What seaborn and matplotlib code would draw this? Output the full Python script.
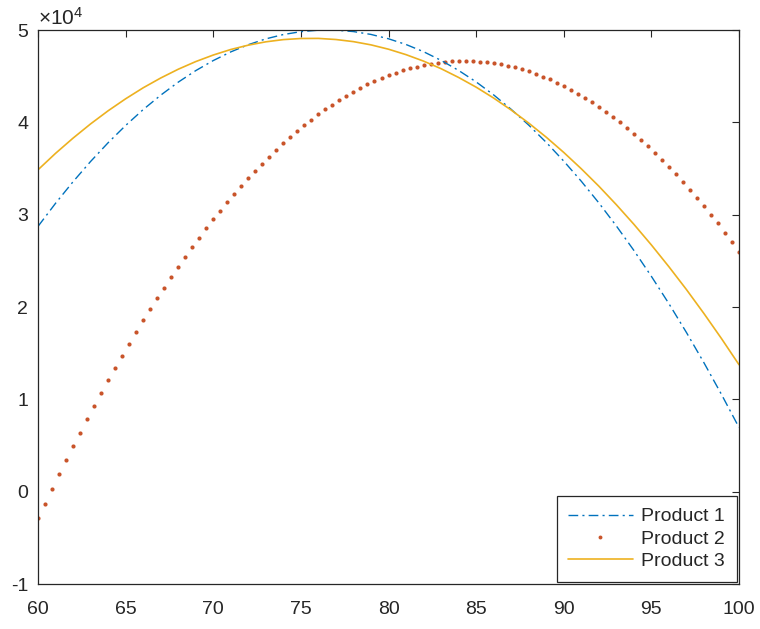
import matplotlib
matplotlib.use("Agg")
import matplotlib.pyplot as plt
import seaborn as sns
import numpy as np
from matplotlib.lines import Line2D
from matplotlib.ticker import FuncFormatter

# Data
x_line = list(range(60, 101))
product1 = [28730, 31230, 33570, 35760, 37790, 39660, 41380, 42940, 44350, 45600,
            46690, 47630, 48410, 49040, 49510, 49820, 49980, 49980, 49830, 49520,
            49050, 48430, 47650, 46710, 45620, 44380, 42970, 41410, 39700, 37830,
            35800, 33620, 31280, 28780, 26130, 23320, 20360, 17240, 13960, 10530,
            6950]
product3 = [34860, 36640, 38290, 39830, 41250, 42550, 43740, 44800, 45750, 46580,
            47290, 47890, 48360, 48720, 48960, 49080, 49090, 48970, 48740, 48390,
            47920, 47330, 46630, 45810, 44860, 43810, 42630, 41330, 39920, 38390,
            36740, 34970, 33090, 31080, 28960, 26720, 24360, 21890, 19290, 16580,
            13750]

x_dots = [round(60 + 0.4 * k, 1) for k in range(101)]
product2 = [-2900, -1280, 310, 1870, 3410, 4920, 6400, 7860, 9290, 10690,
            12070, 13420, 14740, 16030, 17300, 18540, 19760, 20950, 22110, 23240,
            24350, 25430, 26480, 27510, 28510, 29480, 30430, 31350, 32240, 33110,
            33950, 34760, 35540, 36300, 37030, 37740, 38420, 39070, 39690, 40290,
            40860, 41400, 41920, 42410, 42880, 43310, 43720, 44100, 44460, 44790,
            45090, 45370, 45620, 45840, 46030, 46200, 46340, 46460, 46550, 46610,
            46640, 46650, 46630, 46580, 46510, 46410, 46280, 46130, 45950, 45740,
            45510, 45250, 44960, 44650, 44300, 43940, 43540, 43120, 42670, 42200,
            41690, 41160, 40610, 40020, 39410, 38780, 38110, 37420, 36710, 35960,
            35190, 34400, 33570, 32720, 31840, 30940, 30000, 29050, 28060, 27050,
            26010]

labels = ["Product 1", "Product 2", "Product 3"]
colors = ["#0072BD", "#C9542A", "#EDB120"]

sns.set_style("white")
plt.rcParams['font.family'] = ['Liberation Sans', 'DejaVu Sans']
plt.rcParams['axes.unicode_minus'] = False
plt.rcParams['mathtext.fontset'] = 'custom'
plt.rcParams['mathtext.rm'] = 'Liberation Sans'
plt.rcParams['mathtext.it'] = 'Liberation Sans'

fig = plt.figure(figsize=(7.6, 6.29), dpi=100)
ax = fig.add_axes([0.05, 0.0715, 0.9224, 0.8808])

dashdot = (0, (7, 3, 1.5, 3))
sns.lineplot(x=x_line, y=product1, ax=ax, color=colors[0], linewidth=1.0,
             linestyle=dashdot, legend=False)
sns.scatterplot(x=x_dots, y=product2, ax=ax, color=colors[1], s=9,
                linewidth=0, legend=False)
sns.lineplot(x=x_line, y=product3, ax=ax, color=colors[2], linewidth=1.2,
             legend=False)

ax.set_xlim(60, 100)
ax.set_ylim(-10000, 50000)
ax.set_xticks(np.arange(60, 101, 5))
ax.set_yticks(np.arange(-10000, 50001, 10000))
ax.yaxis.set_major_formatter(FuncFormatter(lambda v, p: f"{v / 1e4:g}"))
ax.set_xlabel("")
ax.set_ylabel("")

ax.text(0.0, 1.009, r"$\times\mathregular{10^{4}}$", transform=ax.transAxes,
        fontsize=15, color='#262626', ha='left', va='baseline')

ax.tick_params(direction='in', length=5, width=0.8, labelsize=14,
               top=True, right=True, colors='#262626', labelcolor='#262626')
ax.tick_params(axis='x', pad=12)
ax.tick_params(axis='y', pad=7)
for sp in ax.spines.values():
    sp.set_visible(True)
    sp.set_color('#262626')
    sp.set_linewidth(0.9)

handles = [
    Line2D([], [], color=colors[0], linewidth=1.0, linestyle=dashdot),
    Line2D([], [], color=colors[1], marker='o', markersize=2.8, linestyle='none',
           markeredgewidth=0),
    Line2D([], [], color=colors[2], linewidth=1.2),
]
leg = ax.legend(handles, labels, loc='lower right', fontsize=14, frameon=True,
                fancybox=False, edgecolor='#262626', framealpha=1,
                handlelength=3.3, borderaxespad=0.12, borderpad=0.6,
                labelspacing=0.24, numpoints=1, handletextpad=0.45)
leg.get_frame().set_linewidth(0.9)

fig.savefig("out.png", dpi=100)
